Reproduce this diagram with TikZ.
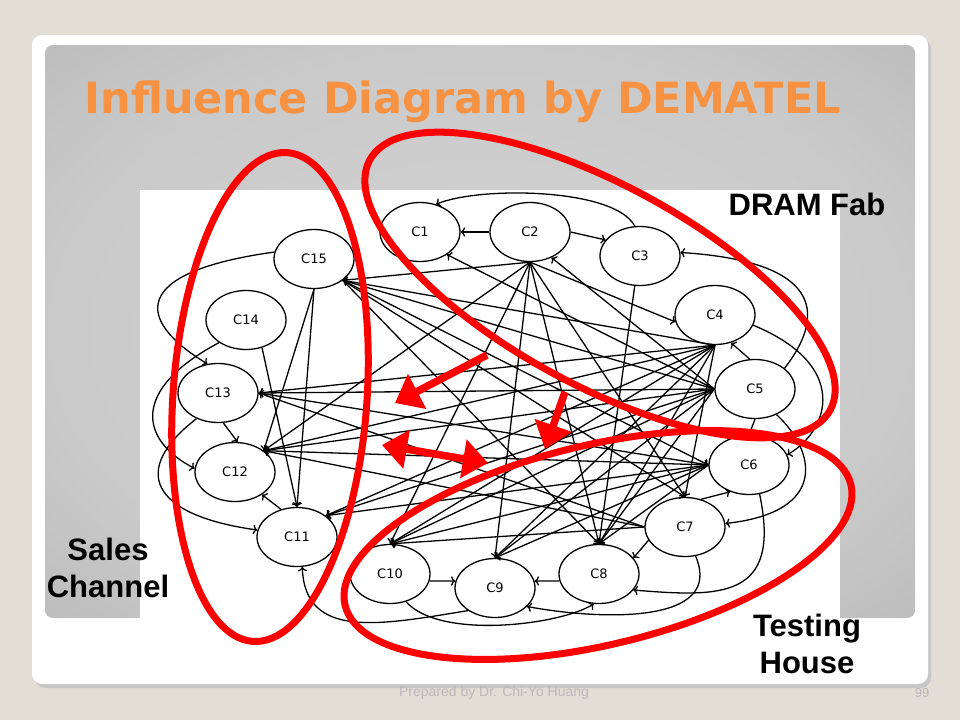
\documentclass[tikz,border=0pt]{standalone}
\usepackage{fontspec}
\setmainfont{Liberation Sans}
\newfontfamily\dejavu{DejaVu Sans}
\usetikzlibrary{shapes.geometric,arrows.meta}
\definecolor{slidebg}{RGB}{226,222,213}
\definecolor{titleorange}{RGB}{247,146,66}
\definecolor{footgray}{RGB}{185,185,185}
\pgfdeclareradialshading{panelshade}{\pgfpoint{0bp}{0bp}}{%
  rgb(0bp)=(0.83,0.83,0.83); rgb(25bp)=(0.79,0.79,0.79);
  rgb(45bp)=(0.70,0.70,0.70); rgb(72bp)=(0.58,0.58,0.58)}

\begin{document}
\begin{tikzpicture}[x=1pt,y=-1pt,
  crit/.style={draw,ellipse,fill=white,line width=1.3pt,minimum width=80pt,minimum height=59pt,inner sep=0pt,font=\dejavu\fontsize{13}{13}\selectfont},
  link/.style={->,line width=1.3pt},
  group/.style={red,line width=7pt},
  bigarrow/.style={red,line width=7.5pt,-{Triangle[length=25pt,width=38pt]}},
  grouplabel/.style={font=\fontsize{31}{37}\selectfont\bfseries,align=center,inner sep=0pt}]
\useasboundingbox (0,0) rectangle (960,720);
\fill[slidebg] (0,0) rectangle (960,720);
\fill[black!22,rounded corners=10pt] (35,39) rectangle (931,688);
\fill[white,rounded corners=10pt] (32,35) rectangle (928,684);
\shade[rounded corners=8pt,shading=panelshade] (45,45) rectangle (915,618);
\fill[white] (140,190) rectangle (840,684);
\node[anchor=base west,text=titleorange,font=\dejavu\bfseries\fontsize{43}{43}\selectfont] (title) at (81,113) {Influence Diagram by DEMATEL};
\node[text=footgray,font=\fontsize{14}{14}\selectfont] (footer) at (494,693) {Prepared by Dr. Chi-Yo Huang};
\node[text=footgray,font=\fontsize{13}{13}\selectfont] (page) at (922,693) {99};

% criteria
\node[crit] (C1) at (420,232) {C1};
\node[crit] (C2) at (530,232) {C2};
\node[crit] (C3) at (640,256) {C3};
\node[crit] (C4) at (715,315) {C4};
\node[crit] (C5) at (755,389) {C5};
\node[crit] (C6) at (749,465) {C6};
\node[crit] (C7) at (685,527) {C7};
\node[crit] (C8) at (599,574) {C8};
\node[crit] (C9) at (495,588) {C9};
\node[crit] (C10) at (390,574) {C10};
\node[crit] (C11) at (297,537) {C11};
\node[crit] (C12) at (235,472) {C12};
\node[crit] (C13) at (218,393) {C13};
\node[crit] (C14) at (246,320) {C14};
\node[crit] (C15) at (314,259) {C15};

% neighbours
\draw[link] (C2.west) -- (C1.east);
\draw[link] (C2.east) -- (C3.155);
\draw[link] (C5.100) -- (C4.-60);
\draw[link] (C5.south) -- (C6.north);
\draw[link] (C7.60) -- (C6.235);
\draw[link] (C7.200) -- (C8.25);
\draw[link] (C8.190) -- (C9.10);
\draw[link] (C10.-10) -- (C9.170);
\draw[link] (C11.120) -- (C12.-40);
\draw[link] (C13.-80) -- (C12.85);
\draw[link] (C15.south) -- (C11.north);
\draw[link] (C15.south) -- (C12.north east);
\draw[link] (C14.-60) -- (C11.north);

% outer loops
\draw[link] (C3.100) .. controls (615,188) and (480,186) .. (C1.60);
\draw[link] (C5.35) .. controls (822,320) and (830,262) .. (C3.5);
\draw[link] (C4.-15) .. controls (850,365) and (830,430) .. (C6.15);
\draw[link] (C5.-50) .. controls (815,450) and (830,512) .. (C7.5);
\draw[link] (C6.-70) .. controls (782,600) and (720,597) .. (C8.-25);
\draw[link] (C7.-70) .. controls (725,625) and (600,620) .. (C9.-30);
\draw[link] (C10.-60) .. controls (440,640) and (560,625) .. (C8.-100);
\draw[link] (C9.-140) .. controls (380,625) and (305,640) .. (C11.-80);
\draw[link] (C15.170) .. controls (130,272) and (135,320) .. (C13.110);
\draw[link] (C14.-140) .. controls (130,390) and (140,440) .. (C12.175);
\draw[link] (C13.-130) .. controls (130,470) and (150,515) .. (C11.170);

% the web
\path[link] (C2.south) edge (C15.south east) edge (C4.190) edge (C12.north east)
  edge (C10.north) edge (C9.north) edge (C8.north) edge (C7.north);
\path[link] (C5.west) edge (C1.-40) edge (C2.-50) edge (C15.south east) edge (C13.east)
  edge (C12.north east) edge (C11.north east) edge (C10.north) edge (C9.north) edge (C8.north);
\path[link] (C4.south) edge (C15.south east) edge (C13.east) edge (C12.north east)
  edge (C11.north east) edge (C10.north) edge (C9.north) edge (C8.north) edge (C7.north);
\path[link] (C6.west) edge (C12.north east) edge (C11.north east) edge (C10.north)
  edge (C9.north) edge (C8.north);
\path[link] (C7.west) edge (C12.north east) edge (C13.east) edge (C10.north);
\path[link] (C15.south east) edge (C8.north) edge (C7.north) edge (C6.west);
\draw[link] (C13.east) -- (C6.west);
\draw[link] (C3.-100) -- (C8.north);

% groups
\draw[group,rotate around={-4:(270,397)}] (270,397) ellipse (97 and 245);
\draw[group,rotate around={-28.5:(600,285)}] (600,285) ellipse (262 and 100);
\draw[group,rotate around={13.4:(598,545)}] (598,545) ellipse (260 and 100);
\coordinate (a1s) at (487,355);
\coordinate (a1e) at (395,403);
\coordinate (a2s) at (565,392);
\coordinate (a2e) at (545,449);
\coordinate (a3s) at (382,445);
\coordinate (a3e) at (488,463);
\draw[bigarrow] (a1s) -- (a1e);
\draw[bigarrow] (a2s) -- (a2e);
\draw[bigarrow,{Triangle[length=25pt,width=38pt]}-{Triangle[length=25pt,width=38pt]}] (a3s) -- (a3e);

\node[grouplabel,anchor=base] (fab) at (807,215) {DRAM Fab};
\node[grouplabel,anchor=north] (sales) at (108,538) {Sales\\Channel};
\node[grouplabel,anchor=north] (testing) at (807,614) {Testing\\House};
\end{tikzpicture}
\end{document}
